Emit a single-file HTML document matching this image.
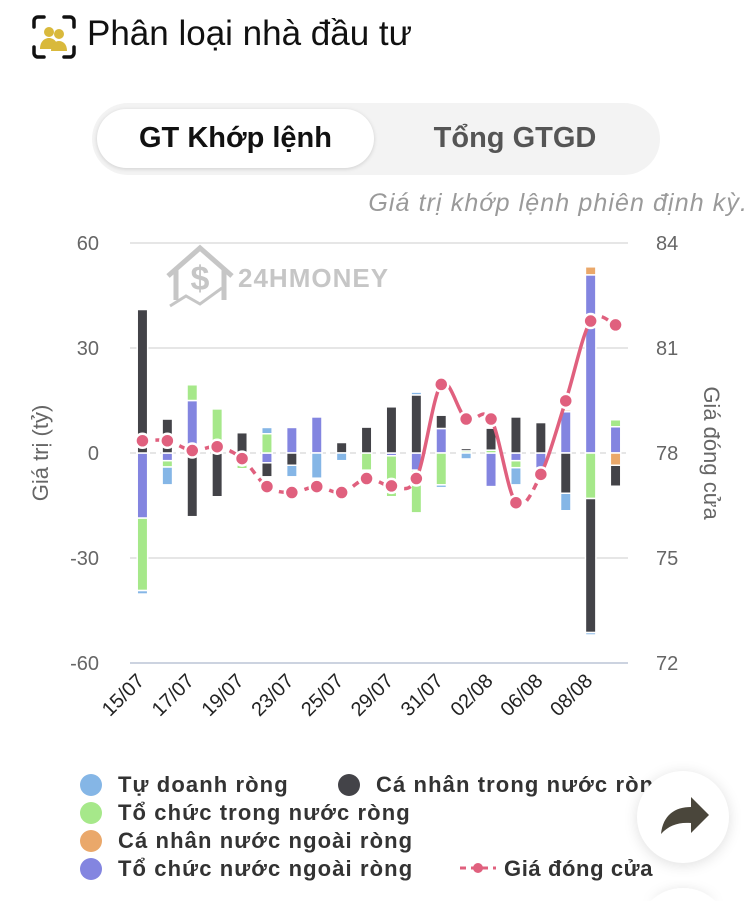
<!DOCTYPE html>
<html style="width:750px;height:901px;overflow:hidden"><head><meta charset="utf-8"><style>
body{margin:0;width:750px;height:901px;background:#fff;overflow:hidden;position:relative;font-family:"Liberation Sans",sans-serif}
.abs{position:absolute}
</style></head><body>
<div class="abs" style="left:32px;top:15px;width:44px;height:44px">
<svg width="44" height="44" viewBox="0 0 44 44"><g fill="none" stroke="#111" stroke-width="3.5" stroke-linecap="round"><path d="M2 12V6a4 4 0 0 1 4-4h6M32 2h6a4 4 0 0 1 4 4v6M42 32v6a4 4 0 0 1-4 4h-6M12 42H6a4 4 0 0 1-4-4v-6"/></g><g fill="#d9b93c"><circle cx="17" cy="17" r="5"/><circle cx="27" cy="19" r="5"/><path d="M8 34c0-8 5-11 9-11s9 3 9 11z"/><path d="M19 36c0-7 4-10 8-10s8 3 8 10z"/></g></svg></div>
<div class="abs" style="left:87px;top:14px;font-size:35px;color:#111;white-space:nowrap">Phân loại nhà đầu tư</div>
<div class="abs" style="left:92px;top:103px;width:568px;height:72px;background:#f3f3f3;border-radius:36px"></div>
<div class="abs" style="left:97px;top:109px;width:277px;height:59px;background:#fff;border-radius:30px;box-shadow:0 1px 4px rgba(0,0,0,.15);text-align:center;line-height:59px;font-size:29px;font-weight:bold;color:#111;white-space:nowrap">GT Khớp lệnh</div>
<div class="abs" style="left:380px;top:109px;width:270px;height:59px;text-align:center;line-height:59px;font-size:29px;font-weight:bold;color:#555;white-space:nowrap">Tổng GTGD</div>
<div class="abs" style="right:2px;top:189px;font-size:25px;font-style:italic;color:#9a9a9a;white-space:nowrap;letter-spacing:1.1px">Giá trị khớp lệnh phiên định kỳ.</div>
<svg class="abs" style="left:0;top:0" width="750" height="901" id="chart">
<defs><filter id="sh" x="-30%" y="-60%" width="160%" height="220%"><feDropShadow dx="0" dy="2" stdDeviation="6" flood-opacity="0.13"/></filter></defs>
<path d="M651,901 A46,46 0 0 1 715,901 Z" fill="#fff" filter="url(#sh)"/>
<g opacity="0.55">
<path d="M168 276 L200 248 L232 276 M176 270 V300 M224 270 V300" stroke="#999" stroke-width="5" fill="none"/>
<text x="200" y="290" font-size="34" font-weight="bold" text-anchor="middle" fill="#999">$</text>
<path d="M170 306 L186 296 L200 304 L222 288" stroke="#999" stroke-width="3" fill="none"/>
<text x="238" y="287" font-size="26" font-weight="bold" fill="#999" letter-spacing="1">24HMONEY</text>
</g>
<g id="grid"></g><g id="bars"></g><g id="line"></g><g id="axes"></g>
<text transform="translate(48,453) rotate(-90)" text-anchor="middle" font-size="22" fill="#666">Giá trị (tỷ)</text>
<text transform="translate(704,453) rotate(90)" text-anchor="middle" font-size="22" fill="#666">Giá đóng cửa</text>
</svg>
<div class="abs" style="left:0;top:0">
<div style="position:absolute;left:80px;top:771px;font-size:22px;font-weight:bold;color:#333;line-height:28px;white-space:nowrap;letter-spacing:1.1px">
<div><span style="display:inline-block;width:22px;height:22px;border-radius:50%;background:#85b6e6;vertical-align:-4px;margin-right:16px"></span>Tự doanh ròng</div>
<div><span style="display:inline-block;width:22px;height:22px;border-radius:50%;background:#a6e88a;vertical-align:-4px;margin-right:16px"></span>Tổ chức trong nước ròng</div>
<div><span style="display:inline-block;width:22px;height:22px;border-radius:50%;background:#eaa86a;vertical-align:-4px;margin-right:16px"></span>Cá nhân nước ngoài ròng</div>
<div><span style="display:inline-block;width:22px;height:22px;border-radius:50%;background:#8385e0;vertical-align:-4px;margin-right:16px"></span>Tổ chức nước ngoài ròng</div>
</div>
<div style="position:absolute;left:338px;top:771px;width:318px;overflow:hidden;font-size:22px;font-weight:bold;color:#333;line-height:28px;white-space:nowrap;letter-spacing:1.1px"><span style="display:inline-block;width:22px;height:22px;border-radius:50%;background:#434348;vertical-align:-4px;margin-right:16px"></span>Cá nhân trong nước ròng</div>
<div style="position:absolute;left:460px;top:855px;font-size:22px;font-weight:bold;color:#333;line-height:28px;white-space:nowrap;letter-spacing:0.6px"><svg width="40" height="20" style="vertical-align:-2px;margin-right:4px"><path d="M0 10H36" stroke="#e0607e" stroke-width="3" stroke-dasharray="6 5"/><circle cx="18" cy="10" r="5" fill="#e0607e"/></svg>Giá đóng cửa</div>
</div>
<div class="abs" style="left:637px;top:771px;width:92px;height:92px;border-radius:50%;background:#fff;box-shadow:0 2px 14px rgba(0,0,0,.13)">
<svg width="92" height="92"><path d="M24 63 C26 44 38 36 54 36 V26 L72 44 L54 62 V52 C42 51 32 54 24 63Z" fill="#4a463b"/></svg></div>
<script>
const categories=["15/07","16/07","17/07","18/07","19/07","22/07","23/07","24/07","25/07","26/07","29/07","30/07","31/07","01/08","02/08","05/08","06/08","07/08","08/08","09/08"];
const tuDoanh=[-1,-5.1,0,0,0,1.8,-3.3,-7.2,-2.2,0,0,0.8,-0.8,-1.7,0,-4.9,0,-5,-0.7,0];
const caNhanTN=[41,9.7,-18.2,-12.5,5.8,-4,-3.5,0,3,7.4,13.2,16.6,3.8,0.7,6.3,10.3,8.7,-11.5,-38.3,-6];
const toChucTN=[-20.7,-1.8,4.5,12.6,-1.5,5.5,0,0,0,-4.9,-11.7,-12.2,-9.1,0.6,0.8,-2,0,0,-13,2];
const caNhanNN=[0,0,0,0,0,0,0,0,0,0,0,0,0,0,0,0,0,0.5,2.3,-3.5];
const toChucNN=[-18.6,-2.2,15,0,-3,-2.8,7.3,10.3,0,0,-0.8,-4.9,7,0,-9.6,-2.2,-4.9,11.8,50.9,7.5];
const price=[78.35,78.35,78.07,78.18,77.84,77.04,76.87,77.04,76.87,77.27,77.06,77.27,79.96,78.97,78.97,76.58,77.39,79.49,81.77,81.66];
const yTicks=[60,30,0,-30,-60];
const y2Ticks=[84,81,78,75,72];
const xLabelIdx=[0,2,4,6,8,10,12,14,16,18];

const NS="http://www.w3.org/2000/svg";
const L=130,R=628,T=243,B=663;
const n=categories.length, step=(R-L)/n;
const xPos=i=>L+step*(i+0.5);
const yL=v=>T+(60-v)/120*(B-T);
const yR=v=>T+(84-v)/12*(B-T);
function mk(tag,attrs,parent){const e=document.createElementNS(NS,tag);for(const k in attrs)e.setAttribute(k,attrs[k]);parent.appendChild(e);return e;}
const grid=document.getElementById('grid'),axes=document.getElementById('axes'),bars=document.getElementById('bars'),line=document.getElementById('line');
yTicks.forEach((t,i)=>{
  const y=yL(t);
  const g=mk('line',{x1:L,x2:R,y1:y,y2:y,stroke:t===-60?'#ccd3e0':'#e6e6e6','stroke-width':2},grid);
  
  
  if(t===0)g.setAttribute('stroke-dasharray','6 4');
  const tx=mk('text',{x:99,y:y+7,'text-anchor':'end','font-size':20,fill:'#666'},axes);
  tx.textContent=t;
  
  
  const t2=mk('text',{x:656,y:yR(y2Ticks[i])+7,'font-size':20,fill:'#666'},axes);
  t2.textContent=y2Ticks[i];
  
  
});
xLabelIdx.forEach(i=>{
  const x=xPos(i)+3,y=682;
  const tx=mk('text',{x:x,y:y,'text-anchor':'end','font-size':20,fill:'#222',transform:`rotate(-45 ${x} ${y})`},axes);
  tx.textContent=categories[i];
  
  
});
const series=[[toChucNN,'#8385e0','to-chuc-nuoc-ngoai'],[caNhanNN,'#eaa86a','ca-nhan-nuoc-ngoai'],[toChucTN,'#a6e88a','to-chuc-trong-nuoc'],[caNhanTN,'#434348','ca-nhan-trong-nuoc'],[tuDoanh,'#85b6e6','tu-doanh']];
const bw=step*0.42;
for(let i=0;i<n;i++){
  let pos=0,neg=0;
  series.forEach(([arr,col,nm])=>{
    const v=arr[i]; if(!v)return;
    let a,b;
    if(v>0){a=pos;b=pos+v;pos=b;}else{a=neg;b=neg+v;neg=b;}
    const y1=yL(Math.max(a,b)),y2=yL(Math.min(a,b));
    const r=mk('rect',{x:xPos(i)-bw/2,y:y1,width:bw,height:Math.max(y2-y1,1),fill:col,stroke:'#fff','stroke-width':1.5},bars);
    
    
  });
}
const pts=price.map((p,i)=>[xPos(i),yR(p)]);
for(let i=0;i<n-1;i++){
  const p0=pts[Math.max(i-1,0)],p1=pts[i],p2=pts[i+1],p3=pts[Math.min(i+2,n-1)];
  const c1=[p1[0]+(p2[0]-p0[0])/6,p1[1]+(p2[1]-p0[1])/6],c2=[p2[0]-(p3[0]-p1[0])/6,p2[1]-(p3[1]-p1[1])/6];
  const len=Math.hypot(p2[0]-p1[0],p2[1]-p1[1]);
  const s=mk('path',{d:`M${p1[0]},${p1[1]}C${c1[0]},${c1[1]} ${c2[0]},${c2[1]} ${p2[0]},${p2[1]}`,fill:'none',stroke:'#e0607e','stroke-width':3.5},line);
  if(len<40)s.setAttribute('stroke-dasharray','7 6');
  
  
}
pts.forEach(p=>{
  const c=mk('circle',{cx:p[0],cy:p[1],r:7,fill:'#e0607e',stroke:'#fff','stroke-width':2.5},line);
  
  
});
</script>
</body></html>
